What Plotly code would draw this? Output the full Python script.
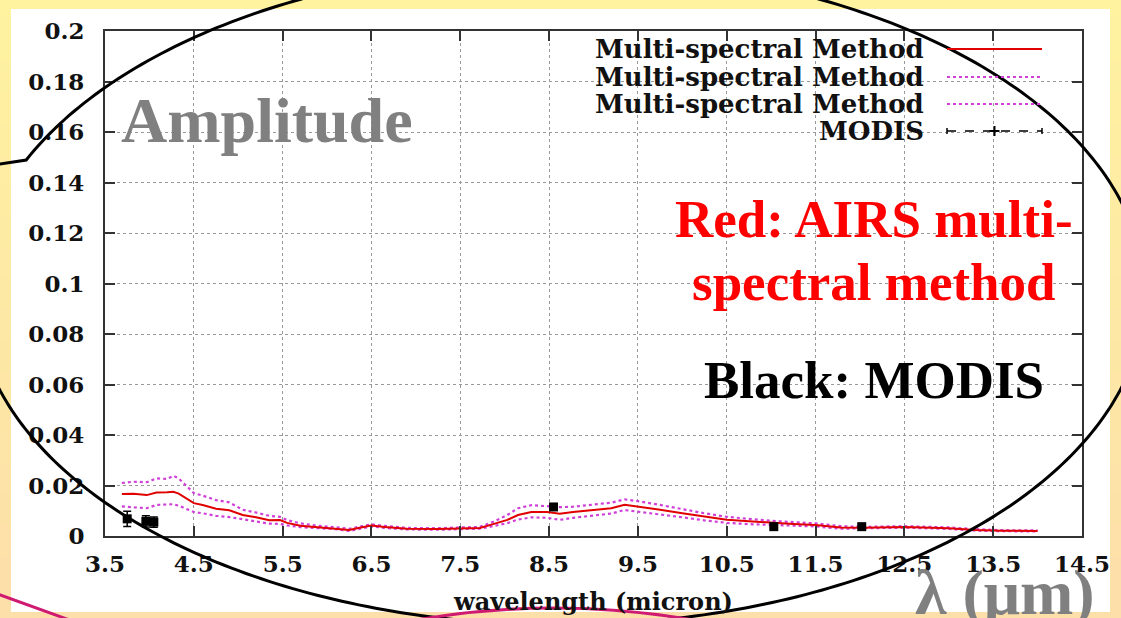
import numpy as np
import plotly.graph_objects as go

# ---- data -------------------------------------------------------------
wavelength = [3.69, 3.82, 3.97, 4.08, 4.2, 4.27, 4.33, 4.5, 4.6, 4.75, 4.9, 5.05,
              5.2, 5.35, 5.47, 5.55, 5.7, 5.9, 6.1, 6.25, 6.38, 6.5, 6.65, 6.9,
              7.25, 7.5, 7.72, 7.87, 8.03, 8.15, 8.3, 8.48, 8.62, 8.77, 9.05, 9.2,
              9.35, 9.5, 9.75, 10.0, 10.25, 10.5, 10.75, 11.0, 11.25, 11.5, 11.78,
              12.04, 12.5, 13.0, 13.3, 13.6, 14.0]

airs_mean = [0.0166, 0.0167, 0.0162, 0.0172, 0.0173, 0.0175, 0.0168, 0.013, 0.0123,
             0.0108, 0.0102, 0.0083, 0.0074, 0.0062, 0.0063, 0.0052, 0.0041, 0.0035,
             0.0031, 0.0024, 0.0034, 0.0042, 0.0036, 0.0029, 0.0028, 0.0031, 0.0032,
             0.0047, 0.0064, 0.0083, 0.0095, 0.0095, 0.0088, 0.0095, 0.0104, 0.011,
             0.0124, 0.0117, 0.0104, 0.009, 0.0076, 0.0064, 0.0058, 0.0052, 0.0048,
             0.0044, 0.0034, 0.0033, 0.0036, 0.0031, 0.0024, 0.0021, 0.002]

airs_upper = [0.021, 0.0215, 0.0213, 0.0228, 0.0226, 0.0238, 0.0228, 0.017, 0.016,
              0.0142, 0.0133, 0.0104, 0.0093, 0.008, 0.0076, 0.0063, 0.005, 0.004,
              0.0035, 0.0028, 0.0038, 0.0046, 0.004, 0.0032, 0.0031, 0.0034, 0.0036,
              0.0056, 0.0083, 0.011, 0.0122, 0.0118, 0.0114, 0.0116, 0.0125, 0.0132,
              0.0145, 0.0138, 0.0123, 0.0106, 0.009, 0.0076, 0.0068, 0.006, 0.0055,
              0.005, 0.0039, 0.0036, 0.0039, 0.0034, 0.0027, 0.0023, 0.0022]

airs_lower = [0.0117, 0.0115, 0.011, 0.0123, 0.0124, 0.0126, 0.012, 0.0095, 0.009,
              0.008, 0.0075, 0.0066, 0.0057, 0.0049, 0.0048, 0.0042, 0.0035, 0.003,
              0.0027, 0.002, 0.003, 0.0038, 0.0032, 0.0026, 0.0025, 0.0028, 0.0029,
              0.0039, 0.0051, 0.0065, 0.0074, 0.0072, 0.0064, 0.0072, 0.0083, 0.0089,
              0.0103, 0.0097, 0.0086, 0.0074, 0.0062, 0.0052, 0.0047, 0.0043, 0.0041,
              0.0038, 0.0029, 0.003, 0.0033, 0.0028, 0.0021, 0.0019, 0.0018]

modis_wl = [3.75, 3.96, 4.05, 8.55, 11.03, 12.02]
modis_amp = [0.0068, 0.0058, 0.0055, 0.0115, 0.0037, 0.0037]
modis_err = [0.003, 0.0022, 0.002, 0.0005, 0.0004, 0.0004]

x_ticks = [3.5, 4.5, 5.5, 6.5, 7.5, 8.5, 9.5, 10.5, 11.5, 12.5, 13.5, 14.5]
y_ticks = [0, 0.02, 0.04, 0.06, 0.08, 0.1, 0.12, 0.14, 0.16, 0.18, 0.2]
y_tick_text = ["0", "0.02", "0.04", "0.06", "0.08", "0.1", "0.12", "0.14",
               "0.16", "0.18", "0.2"]

legend_labels = ["Multi-spectral Method", "Multi-spectral Method",
                 "Multi-spectral Method", "MODIS"]

# ---- page geometry (pixels) --------------------------------------------
W, H = 1121, 618
ML, MR, MT, MB = 105, 39, 31, 82
PW = W - ML - MR
PH = H - MT - MB


def fx(p):
    return (p - ML) / PW


def fy(p):
    return (H - MB - p) / PH


RED = "#e00000"
MAG = "#d040d8"
PINK = "#cf1a72"
CHART_FONT = dict(family="DejaVu Serif", color="#111111", weight="bold")
SLIDE_FONT = "Liberation Serif"

fig = go.Figure()

fig.add_trace(go.Scatter(x=wavelength, y=airs_lower, mode="lines",
                         line=dict(color=MAG, width=2.2, dash="dot"),
                         showlegend=False))
fig.add_trace(go.Scatter(x=wavelength, y=airs_upper, mode="lines",
                         line=dict(color=MAG, width=2.2, dash="dot"),
                         showlegend=False))
fig.add_trace(go.Scatter(x=wavelength, y=airs_mean, mode="lines",
                         line=dict(color=RED, width=2), showlegend=False))
fig.add_trace(go.Scatter(x=modis_wl, y=modis_amp, mode="markers",
                         marker=dict(color="black", symbol="square", size=9),
                         error_y=dict(type="data", array=modis_err, color="black",
                                      thickness=1.5, width=4),
                         showlegend=False))

shapes = []

# slide background: yellow to peach vertical gradient
top_c = np.array([255, 243, 160])
bot_c = np.array([253, 223, 170])
n_band = 40
for i in range(n_band):
    c = top_c + (bot_c - top_c) * i / (n_band - 1)
    y0 = H * i / n_band
    y1 = H * (i + 1) / n_band + 1
    shapes.append(dict(type="rect", xref="paper", yref="paper", layer="below",
                       x0=fx(-2), x1=fx(W + 2), y0=fy(y1), y1=fy(y0),
                       line=dict(width=0),
                       fillcolor="rgb(%d,%d,%d)" % tuple(c.astype(int))))

# white chart panel
shapes.append(dict(type="rect", xref="paper", yref="paper", layer="below",
                   x0=fx(11), x1=fx(1110), y0=fy(612), y1=fy(9),
                   line=dict(width=0), fillcolor="white"))

# black highlight ellipse (open at the upper left, with a short tail)
cx, cy, a, b = 560, 295, 585, 330
t0 = np.pi + np.arcsin((cy - 160) / b)
t = np.linspace(t0, t0 + 2 * np.pi - 0.15, 400)
ex = cx + a * np.cos(t)
ey = cy + b * np.sin(t)
path = "M %.5f,%.5f L %.5f,%.5f" % (fx(-6), fy(165), fx(ex[0]), fy(ey[0]))
path += "".join(" L %.5f,%.5f" % (fx(u), fy(v)) for u, v in zip(ex[1:], ey[1:]))
shapes.append(dict(type="path", xref="paper", yref="paper", layer="above",
                   path=path, line=dict(color="black", width=3)))

# pink strokes along the bottom edge
shapes.append(dict(type="line", xref="paper", yref="paper", layer="above",
                   x0=fx(-5), y0=fy(593), x1=fx(75), y1=fy(622),
                   line=dict(color=PINK, width=3)))
shapes.append(dict(type="path", xref="paper", yref="paper", layer="above",
                   path="M %.5f,%.5f Q %.5f,%.5f %.5f,%.5f" % (
                       fx(405), fy(622), fx(555), fy(594), fx(705), fy(622)),
                   line=dict(color=PINK, width=3)))

# key samples (gnuplot style, text to the left of the sample)
key_rows = [49, 77, 104, 131]
kx0, kx1 = 947, 1042
shapes.append(dict(type="line", xref="paper", yref="paper", x0=fx(kx0), x1=fx(kx1),
                   y0=fy(key_rows[0]), y1=fy(key_rows[0]),
                   line=dict(color=RED, width=2)))
for r in key_rows[1:3]:
    shapes.append(dict(type="line", xref="paper", yref="paper", x0=fx(kx0), x1=fx(kx1),
                       y0=fy(r), y1=fy(r), line=dict(color=MAG, width=2.2, dash="dot")))
r = key_rows[3]
shapes.append(dict(type="line", xref="paper", yref="paper", x0=fx(kx0), x1=fx(kx1),
                   y0=fy(r), y1=fy(r), line=dict(color="black", width=1.5, dash="dash")))
kxm = (kx0 + kx1) / 2
for xx in (kx0, kx1):
    shapes.append(dict(type="line", xref="paper", yref="paper", x0=fx(xx), x1=fx(xx),
                       y0=fy(r - 3), y1=fy(r + 3), line=dict(color="black", width=1.5)))
shapes.append(dict(type="line", xref="paper", yref="paper", x0=fx(kxm), x1=fx(kxm),
                   y0=fy(r - 5), y1=fy(r + 5), line=dict(color="black", width=2)))
shapes.append(dict(type="line", xref="paper", yref="paper", x0=fx(kxm - 5), x1=fx(kxm + 5),
                   y0=fy(r), y1=fy(r), line=dict(color="black", width=2)))

annotations = []
for lab, r in zip(legend_labels, key_rows):
    annotations.append(dict(text=lab, xref="paper", yref="paper", x=fx(926), y=fy(r),
                            xanchor="right", yanchor="middle", showarrow=False,
                            font=dict(size=26, **CHART_FONT)))

annotations += [
    dict(text="Amplitude", x=fx(267), y=fy(120), xanchor="center", yanchor="middle",
         font=dict(family=SLIDE_FONT, size=64, color="#808080", weight="bold")),
    dict(text="Red: AIRS multi-", x=fx(874), y=fy(219), xanchor="center",
         yanchor="middle",
         font=dict(family=SLIDE_FONT, size=53, color="#ff0000", weight="bold")),
    dict(text="spectral method", x=fx(874), y=fy(282), xanchor="center",
         yanchor="middle",
         font=dict(family=SLIDE_FONT, size=53, color="#ff0000", weight="bold")),
    dict(text="Black: MODIS", x=fx(874), y=fy(380), xanchor="center",
         yanchor="middle",
         font=dict(family=SLIDE_FONT, size=53, color="black", weight="bold")),
    dict(text="λ (μm)", x=fx(1005), y=fy(592), xanchor="center", yanchor="middle",
         font=dict(family=SLIDE_FONT, size=64, color="#808080", weight="bold")),
]
for an in annotations[len(legend_labels):]:
    an.update(xref="paper", yref="paper", showarrow=False)

axis_common = dict(showline=True, linecolor="#333333", linewidth=2, mirror="ticks",
                   ticks="inside", ticklen=10, tickwidth=2, tickcolor="#333333",
                   showgrid=True, gridcolor="#9a9a9a", gridwidth=1, griddash="dot",
                   zeroline=False, automargin=False,
                   tickfont=dict(size=23, **CHART_FONT))

fig.update_xaxes(range=[3.5, 14.5], tickvals=x_ticks,
                 ticktext=[str(v) for v in x_ticks], ticklabelstandoff=6,
                 title=dict(text="wavelength (micron)", standoff=18,
                            font=dict(size=24, **CHART_FONT)),
                 **axis_common)
fig.update_yaxes(range=[0, 0.2], tickvals=y_ticks, ticktext=y_tick_text,
                 ticklabelstandoff=14, **axis_common)

fig.update_layout(width=W, height=H, autosize=False,
                  margin=dict(l=ML, r=MR, t=MT, b=MB),
                  paper_bgcolor="rgb(254,233,165)", plot_bgcolor="white",
                  shapes=shapes, annotations=annotations, showlegend=False)

fig.write_html("out.html")
